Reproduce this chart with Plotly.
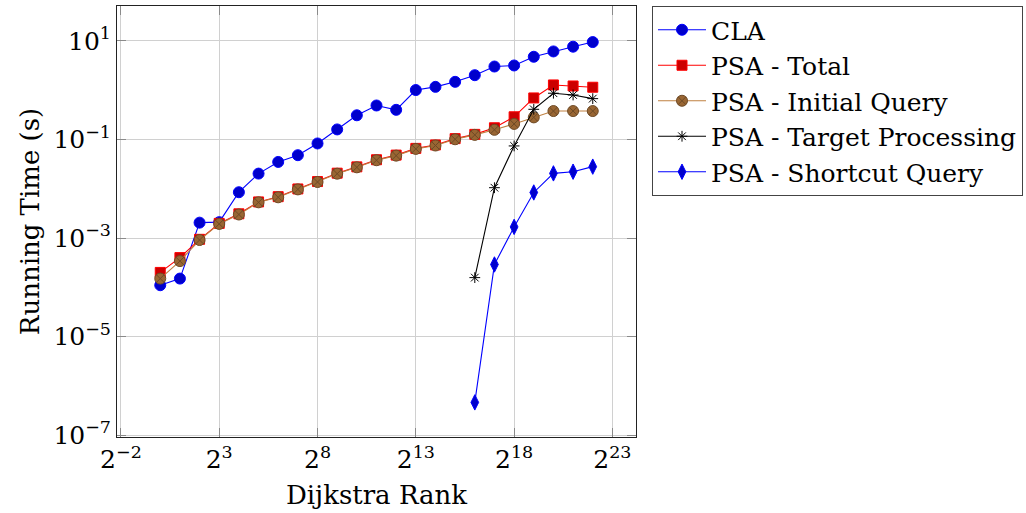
import plotly.graph_objects as go

# Dijkstra rank exponents (rank = 2**k)
rank_exp = list(range(0, 23))
rank_exp_psa = list(range(16, 23))

# Running times in seconds
cla_time = [1.1e-4, 1.5e-4, 2.05e-3, 2.1e-3, 8.5e-3, 0.0203, 0.035, 0.048, 0.083,
            0.16, 0.31, 0.49, 0.40, 1.01, 1.17, 1.48, 2.02, 3.03, 3.18, 4.78,
            6.13, 7.65, 9.5]
psa_total = [2.0e-4, 4.0e-4, 9.4e-4, 1.98e-3, 3.1e-3, 5.4e-3, 6.9e-3, 9.9e-3,
             0.0140, 0.0207, 0.0278, 0.0388, 0.0482, 0.0660, 0.0775, 0.104,
             0.127, 0.173, 0.289, 0.697, 1.28, 1.22, 1.15]
psa_initial = [1.5e-4, 3.4e-4, 9.1e-4, 1.93e-3, 3.0e-3, 5.3e-3, 6.7e-3, 9.7e-3,
               0.0137, 0.0202, 0.0272, 0.0379, 0.047, 0.0643, 0.0755, 0.101,
               0.124, 0.157, 0.207, 0.281, 0.378, 0.378, 0.378]
psa_target = [1.57e-4, 0.0105, 0.074, 0.41, 0.87, 0.80, 0.675]
psa_shortcut = [4.6e-7, 2.9e-4, 1.68e-3, 8.4e-3, 0.0205, 0.0222, 0.0281]

x_tick_exp = [-2, 3, 8, 13, 18, 23]
y_tick_exp = [-7, -5, -3, -1, 1]

FONT = "DejaVu Serif"

x_all = [2.0 ** k for k in rank_exp]
x_psa = [2.0 ** k for k in rank_exp_psa]

series = [
    ("CLA", x_all, cla_time, "blue", "circle", "#0000CC", "#0000FF", 11),
    ("PSA - Total", x_all, psa_total, "red", "square", "#CC0000", "#FF0000", 10),
    ("PSA - Initial Query", x_all, psa_initial, "#BF8040", "circle-x", "#996633", "#6E4A26", 11),
    ("PSA - Target Processing", x_psa, psa_target, "black", "asterisk-open", "black", "black", 9),
    ("PSA - Shortcut Query", x_psa, psa_shortcut, "blue", "diamond-tall", "#0000CC", "#0000FF", 11),
]

fig = go.Figure()
for name, xs, ys, lc, sym, fill, mline, size in series:
    fig.add_trace(go.Scatter(
        x=xs, y=ys, name=name, mode="lines+markers",
        line=dict(color=lc, width=1.1),
        marker=dict(symbol=sym, size=size, color=fill,
                    line=dict(color=mline, width=1)),
    ))

sup = lambda b, e: f"{b}<sup>{str(e).replace('-', '−')}</sup>"

axis_common = dict(
    type="log", showline=True, linecolor="#222", linewidth=1, mirror="allticks",
    ticks="inside", ticklen=9, tickcolor="#8a8a8a", tickwidth=1,
    showgrid=True, gridcolor="#d0d0d0", gridwidth=1, zeroline=False,
    tickfont=dict(family=FONT, size=25, color="black"),
)

fig.update_layout(
    width=1026, height=513,
    margin=dict(l=117, r=390, t=6, b=76),
    paper_bgcolor="white", plot_bgcolor="white",
    font=dict(family=FONT, color="black"),
    xaxis=dict(
        **axis_common,
        range=[-2.2 * 0.30103, 24.2 * 0.30103],
        tickvals=[2.0 ** k for k in x_tick_exp],
        ticktext=[sup(2, k) for k in x_tick_exp],
        title=dict(text="Dijkstra Rank", font=dict(family=FONT, size=26), standoff=12),
    ),
    yaxis=dict(
        **axis_common,
        range=[-7.04, 1.71],
        tickvals=[10.0 ** k for k in y_tick_exp],
        ticktext=[sup(10, k) for k in y_tick_exp],
        title=dict(text="Running Time (s)", font=dict(family=FONT, size=26), standoff=6),
    ),
    legend=dict(
        xref="container", yref="container",
        x=652 / 1026, y=1 - 6 / 513, xanchor="left", yanchor="top",
        bgcolor="white", bordercolor="#444", borderwidth=1,
        font=dict(family=FONT, size=25, color="black"),
        traceorder="normal", itemwidth=48,
    ),
    showlegend=True,
)

fig.write_html("out.html")
